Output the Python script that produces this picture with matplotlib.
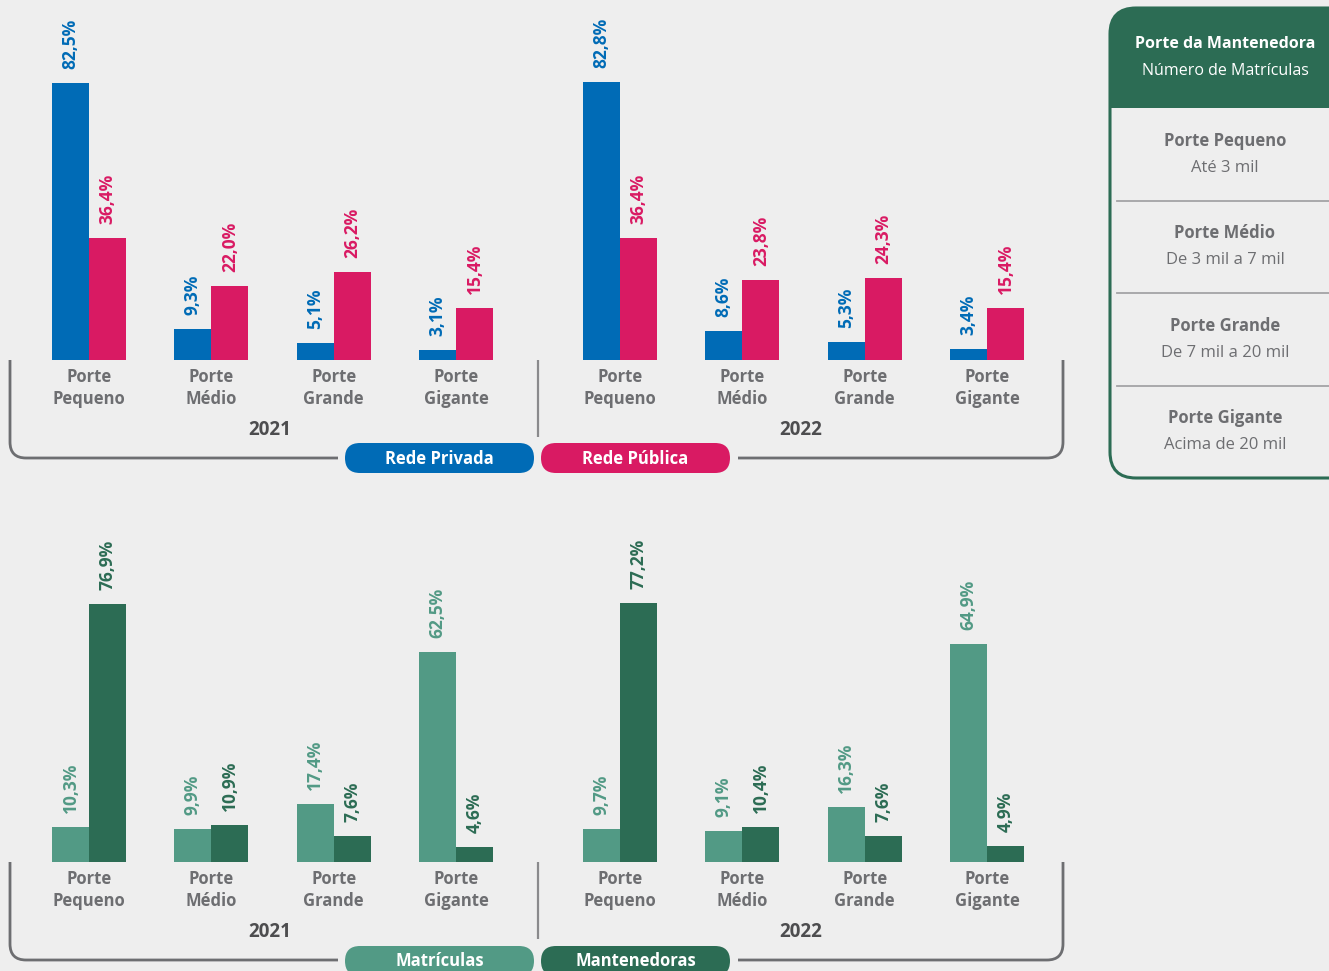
import matplotlib
matplotlib.use("Agg")
import matplotlib.pyplot as plt
from matplotlib.patches import FancyBboxPatch, Rectangle, PathPatch
from matplotlib.path import Path

# ---- data ----
portes = ["Porte\nPequeno", "Porte\nMédio", "Porte\nGrande", "Porte\nGigante"]
anos = ["2021", "2022"]

privada_2021 = [82.5, 9.3, 5.1, 3.1]
publica_2021 = [36.4, 22.0, 26.2, 15.4]
privada_2022 = [82.8, 8.6, 5.3, 3.4]
publica_2022 = [36.4, 23.8, 24.3, 15.4]

matriculas_2021 = [10.3, 9.9, 17.4, 62.5]
mantenedoras_2021 = [76.9, 10.9, 7.6, 4.6]
matriculas_2022 = [9.7, 9.1, 16.3, 64.9]
mantenedoras_2022 = [77.2, 10.4, 7.6, 4.9]

tabela_titulo = ["Porte da Mantenedora", "Número de Matrículas"]
tabela_portes = ["Porte Pequeno", "Porte Médio", "Porte Grande", "Porte Gigante"]
tabela_faixas = ["Até 3 mil", "De 3 mil a 7 mil", "De 7 mil a 20 mil", "Acima de 20 mil"]

# ---- style ----
BG = "#eeeeee"
BLUE = "#006bb6"
PINK = "#d91a63"
LGREEN = "#529a85"
DGREEN = "#2c6c54"
GRAY = "#6d6e71"
DARK = "#4d4d4f"
LINE = "#6d6e71"
FONT = "Open Sans"

W, H = 1329, 971
PX_PER_PCT = 3.357
BAR_W = 37
CENTERS = [89, 211.3, 333.7, 456]
YEAR_SHIFT = 531

fig = plt.figure(figsize=(W / 100, H / 100), dpi=100, facecolor=BG)

# overlay axes in pixel coordinates for decorations
ov = fig.add_axes([0, 0, 1, 1])
ov.set_xlim(0, W)
ov.set_ylim(H, 0)
ov.axis("off")
ov.set_facecolor("none")


def bar_panel(base_y, series_a, series_b, col_a, col_b):
    top_h = 360
    ax = fig.add_axes([0, (H - base_y) / H, 1100 / W, top_h / H])
    ax.set_xlim(0, 1100)
    ax.set_ylim(0, top_h / PX_PER_PCT)
    ax.axis("off")
    ax.patch.set_alpha(0)
    for k in range(len(anos)):
        xs = [c + k * YEAR_SHIFT for c in CENTERS]
        for vals, col, off in ((series_a[k], col_a, -BAR_W / 2), (series_b[k], col_b, BAR_W / 2)):
            xpos = [x + off for x in xs]
            ax.bar(xpos, vals, width=BAR_W, color=col, linewidth=0)
            for x, v in zip(xpos, vals):
                ax.annotate(f"{v:.1f}%".replace(".", ","), xy=(x, v), xytext=(0, 14),
                            textcoords="offset pixels", rotation=90, ha="center",
                            va="bottom", color=col, fontsize=12.5, fontweight="bold",
                            family=FONT)
    return ax


def frame(base_y, line_y, pill_y, label_a, label_b, col_a, col_b):
    # category and year labels
    for k, ano in enumerate(anos):
        for c, p in zip(CENTERS, portes):
            ov.text(c + k * YEAR_SHIFT, base_y + 28, p, ha="center", va="center",
                    color=GRAY, fontsize=12, fontweight="bold", family=FONT,
                    linespacing=1.3)
        ov.text(270 + k * YEAR_SHIFT, base_y + 70, ano, ha="center", va="center",
                color=DARK, fontsize=13.5, fontweight="bold", family=FONT)
    # divider
    ov.plot([538, 538], [base_y, base_y + 77], color="#8a8a8c", lw=1.6,
            solid_capstyle="butt")
    r = 16
    left = Path([(10, base_y), (10, line_y - r), (10, line_y), (10 + r, line_y), (338, line_y)],
                [Path.MOVETO, Path.LINETO, Path.CURVE3, Path.CURVE3, Path.LINETO])
    right = Path([(738, line_y), (1063 - r, line_y), (1063, line_y), (1063, line_y - r), (1063, base_y)],
                 [Path.MOVETO, Path.LINETO, Path.CURVE3, Path.CURVE3, Path.LINETO])
    for p in (left, right):
        ov.add_patch(PathPatch(p, fill=False, edgecolor=LINE, lw=2.0, capstyle="butt"))
    # legend pills
    for x0, lab, col in ((345, label_a, col_a), (541, label_b, col_b)):
        ov.add_patch(FancyBboxPatch((x0, pill_y), 189, 30,
                                    boxstyle="round,pad=0,rounding_size=15",
                                    facecolor=col, edgecolor="none"))
        ov.text(x0 + 94.5, pill_y + 15.5, lab, ha="center", va="center", color="white",
                fontsize=12, fontweight="bold", family=FONT)


bar_panel(360, [privada_2021, privada_2022], [publica_2021, publica_2022], BLUE, PINK)
frame(360, 458, 443, "Rede Privada", "Rede Pública", BLUE, PINK)

bar_panel(862, [matriculas_2021, matriculas_2022], [mantenedoras_2021, mantenedoras_2022],
          LGREEN, DGREEN)
frame(862, 960, 946, "Matrículas", "Mantenedoras", LGREEN, DGREEN)

# ---- right side table ----
box = FancyBboxPatch((1110, 8), 260, 470, boxstyle="round,pad=0,rounding_size=26",
                     facecolor=BG, edgecolor=DGREEN, lw=2.2, zorder=2)
ov.add_patch(box)
head = Rectangle((1100, 0), 280, 108, facecolor=DGREEN, edgecolor="none", zorder=3)
ov.add_patch(head)
head.set_clip_path(box)
ov.text(1225, 44, tabela_titulo[0], ha="center", va="center", color="white",
        fontsize=11.5, fontweight="bold", family=FONT, zorder=4)
ov.text(1225, 71, tabela_titulo[1], ha="center", va="center", color="white",
        fontsize=11.5, family=FONT, zorder=4)
for i, (p, f) in enumerate(zip(tabela_portes, tabela_faixas)):
    y0 = 141 + i * 92.3
    ov.text(1225, y0, p, ha="center", va="center", color=GRAY, fontsize=12,
            fontweight="bold", family=FONT, zorder=4)
    ov.text(1225, y0 + 27, f, ha="center", va="center", color=GRAY, fontsize=12,
            family=FONT, zorder=4)
    if i < 3:
        ov.plot([1117, W], [y0 + 60, y0 + 60], color="#a3a3a5", lw=1.3, zorder=4)

fig.savefig("out.png", dpi=100, facecolor=BG)
